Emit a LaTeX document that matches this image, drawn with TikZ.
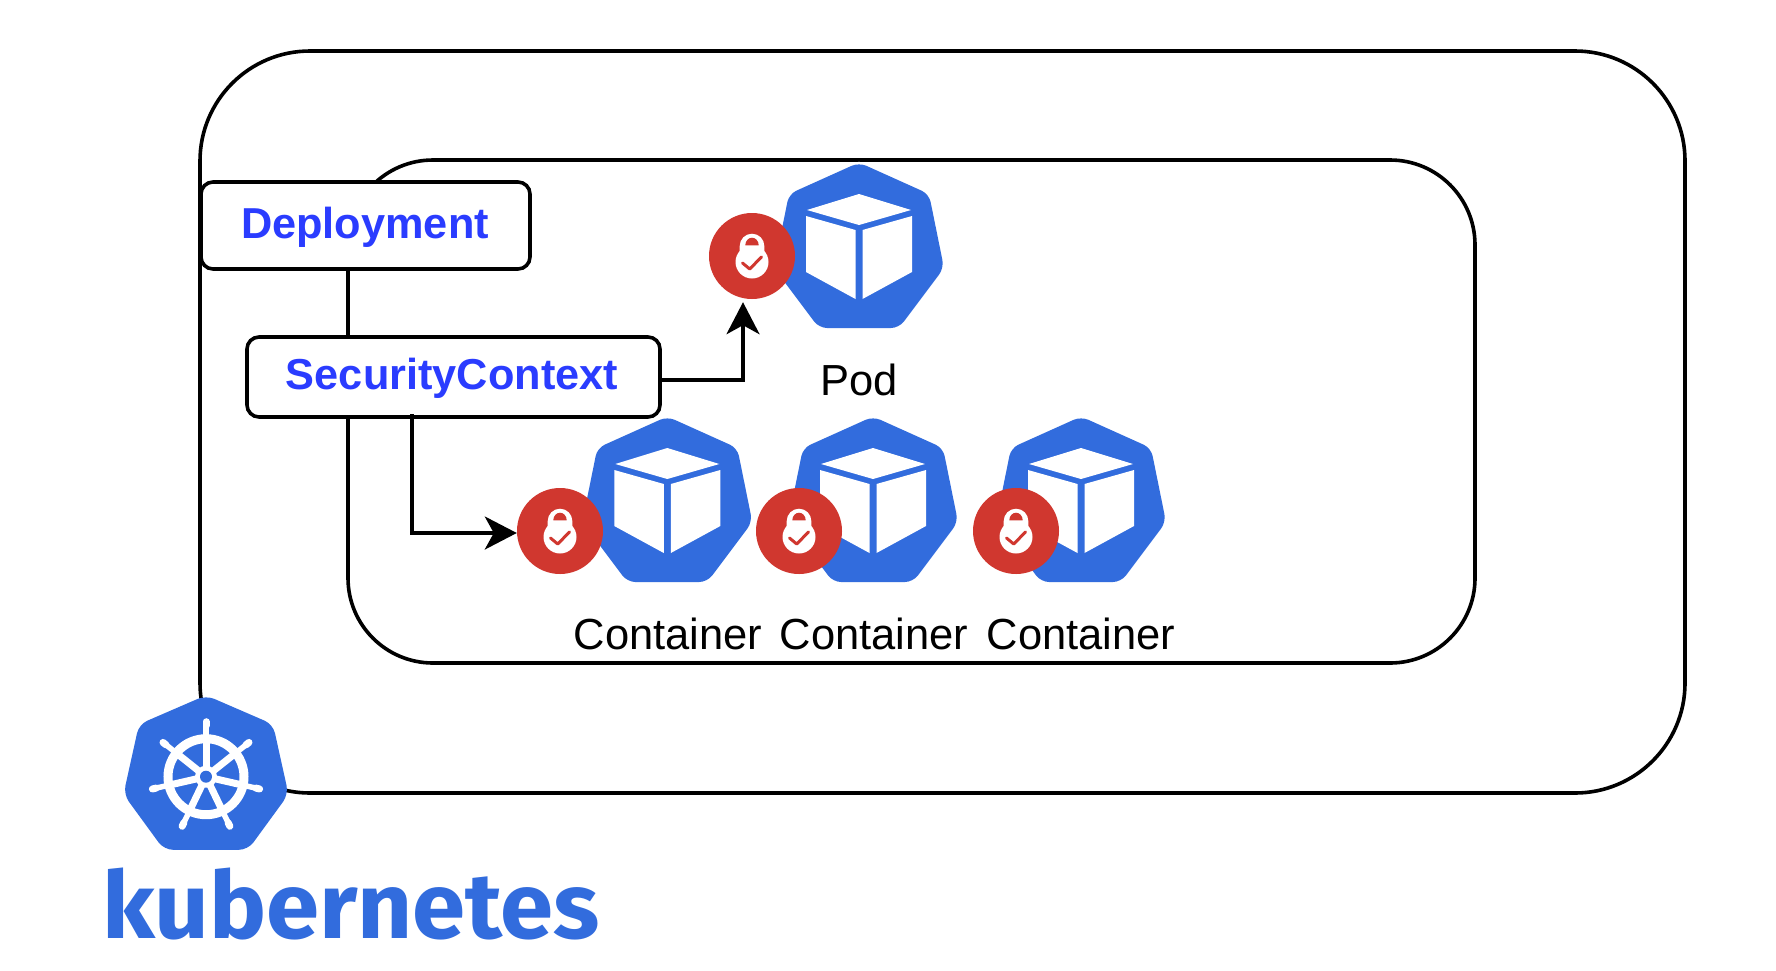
\documentclass[tikz,border=0pt]{standalone}
\usepackage{fontspec}
\setmainfont{Liberation Sans}
\newfontfamily\kubefont{Fira Sans}[UprightFont=* Bold]
\usetikzlibrary{arrows.meta}
\definecolor{kblue}{HTML}{326CDD}
\definecolor{kred}{HTML}{D0372F}
\definecolor{tblue}{HTML}{2A3CFF}
\tikzset{
  frameline/.style={draw=black,line width=3.6pt},
  labelbox/.style={frameline,fill=white,rounded corners=12pt},
  boxtext/.style={anchor=base,inner sep=0pt,font=\fontsize{43.3}{50}\selectfont\bfseries\color{tblue}},
  iconlabel/.style={anchor=center,inner sep=0pt,font=\fontsize{43.5}{50}\selectfont},
  lockdisc/.style={circle,fill=kred,minimum size=86pt,inner sep=0pt},
  conn/.style={draw=black,line width=3.6pt,-{Stealth[length=32pt,width=33pt,inset=9pt]}},
}
\newcommand{\heptapath}{(0,-2.5) -- (70,29) -- (85,103) -- (40,163) -- (-40,163) -- (-85,103) -- (-70,29) -- cycle}
\newcommand{\cubeicon}[2]{%
  \begin{scope}[shift={(#1,#2)}]
    \draw[white,line width=5pt,fill=white,rounded corners=8pt] \heptapath;
    \fill[kblue,rounded corners=8pt] \heptapath;
    \fill[white] (0,29) -- (52,45) -- (0,60) -- (-52,45) -- cycle;
    \fill[white] (-53,51) -- (-3.5,65) -- (-3.5,134) -- (-53,107) -- cycle;
    \fill[white] (53,51) -- (3.5,65) -- (3.5,134) -- (53,107) -- cycle;
  \end{scope}}
\newcommand{\lockicon}[1]{%
  \begin{scope}[shift={(#1)}]
    \fill[white] (0,6) circle[radius=16.5];
    \fill[white] (-12.3,6) -- (-12.3,-10) arc[start angle=180,end angle=360,radius=12.3] -- (12.3,6) -- cycle;
    \fill[kred] (-6.7,-10.7) arc[start angle=180,end angle=360,x radius=6.7,y radius=7.6] -- cycle;
    \draw[kred,line width=3pt,line cap=round,line join=round] (-9.5,7) -- (-2.3,13) -- (9.5,1);
  \end{scope}}
\begin{document}
\begin{tikzpicture}[x=1pt,y=-1pt]
\useasboundingbox (0,0) rectangle (1776,970);
\fill[white] (0,0) rectangle (1776,970);
% frames
\draw[frameline,rounded corners=110pt] (200,51) rectangle (1685,793);
\draw[frameline,rounded corners=85pt] (348,160) rectangle (1475,663);
% label boxes
\path[labelbox] (201,182) rectangle (530,269);
\node[inner sep=0pt] (dep) at (365.5,225.5) {};
\path[labelbox] (247,337) rectangle (660,417);
\node[inner sep=0pt] (sc) at (453.5,377) {};
\node[boxtext] at (365,238) {Deployment};
\node[boxtext] at (452,389) {SecurityContext};
% pod
\cubeicon{859}{165}
\node[lockdisc] (lockp) at (752,256) {};
\lockicon{lockp}
\node[iconlabel] (podl) at (859,380) {Pod};
% containers
\cubeicon{667.3}{419}
\cubeicon{873}{419}
\cubeicon{1081}{419}
\node[lockdisc] (lock1) at (560,531) {};
\node[lockdisc] (lock2) at (799,531) {};
\node[lockdisc] (lock3) at (1016,531) {};
\lockicon{lock1}
\lockicon{lock2}
\lockicon{lock3}
\node[iconlabel] (c1) at (668,634) {Container};
\node[iconlabel] (c2) at (874,634) {Container};
\node[iconlabel] (c3) at (1081,634) {Container};
% connectors
\coordinate (scr) at (660,380);
\coordinate (scb) at (412,414);
\draw[conn] (scr) -| ([xshift=-9pt,yshift=-3pt]lockp.south);
\draw[conn] (scb) |- ([yshift=-2pt]lock1.west);
% logo
\begin{scope}[shift={(206,698.3)}]
  \fill[kblue,rounded corners=9pt] (0,-3) -- (67,26) -- (82.5,96) -- (42,151.5) -- (-42,151.5) -- (-82.5,96) -- (-67,26) -- cycle;
  \begin{scope}[shift={(0,78.4)}]
    \draw[white,line width=9pt] (0,0) circle[radius=38];
    \foreach \a in {90,141.43,192.86,244.29,295.71,347.14,38.57}{
      \draw[white,line width=7pt] (0,0) -- ({\a}:{-40});
      \draw[white,line width=5.5pt] ({\a}:{-40}) -- ({\a}:{-54});
      \draw[white,line width=7pt,line cap=round] ({\a}:{-51}) -- ({\a}:{-55});
    }
    \fill[white] (0,0) circle[radius=11];
    \fill[kblue] (0,0) circle[radius=6];
  \end{scope}
\end{scope}
\node[anchor=base west,inner sep=0pt,text=kblue,transform shape,xscale=1.03,font=\kubefont\fontsize{93}{100}\selectfont] (kube) at (102,938) {kubernetes};
\end{tikzpicture}
\end{document}
